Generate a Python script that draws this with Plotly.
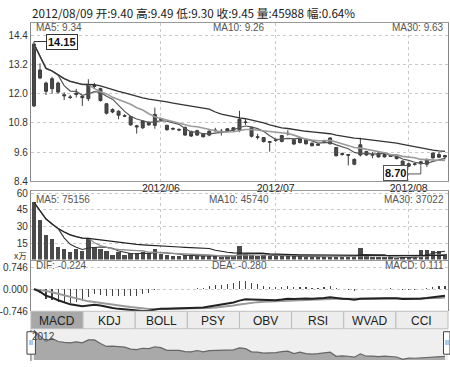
import plotly.graph_objects as go
import pandas as pd

# ---------------- data ----------------
may_days = [3, 4, 7, 8, 9, 10, 11, 14, 15, 16, 17, 18, 21, 22, 23, 24, 25, 28, 29, 30, 31]
jun_days = [1, 4, 5, 6, 7, 8, 11, 12, 13, 14, 15, 18, 19, 20, 21, 25, 26, 27, 28]
jul_days = [2, 3, 4, 5, 6, 9, 10, 11, 12, 13, 16, 17, 18, 19, 20, 23, 24, 25, 26, 27, 30, 31]
aug_days = [1, 2, 3, 6, 7, 8, 9]
dates = ([f"2012/05/{d:02d}" for d in may_days] + [f"2012/06/{d:02d}" for d in jun_days]
         + [f"2012/07/{d:02d}" for d in jul_days] + [f"2012/08/{d:02d}" for d in aug_days])

opens = [11.50, 12.65, 12.44, 12.21, 12.44, 11.96, 11.87, 11.97, 11.90, 11.80,
         12.30, 12.21, 11.59, 11.35, 11.28, 11.10, 11.06, 10.68, 10.60, 10.72,
         10.70, 10.94, 10.70, 10.57, 10.53, 10.62, 10.45, 10.30, 10.35, 10.30,
         10.48, 10.46, 10.46, 10.50, 10.50, 10.84, 10.60, 10.23, 10.20, 10.00,
         10.08, 10.04, 10.35, 10.11, 9.99, 10.11, 9.96, 9.88, 10.04, 9.94,
         9.79, 9.50, 9.50, 9.10, 9.48, 9.62, 9.47, 9.56, 9.40, 9.48,
         9.41, 9.23, 9.02, 9.10, 9.12, 9.10, 9.56, 9.50, 9.40]
highs = [14.15, 13.25, 12.50, 12.70, 12.50, 12.06, 11.95, 12.20, 11.92, 12.60,
         12.45, 12.25, 11.60, 11.40, 11.32, 11.16, 11.08, 10.72, 10.92, 10.86,
         11.43, 11.02, 10.72, 10.62, 10.58, 10.64, 10.48, 10.52, 10.38, 10.50,
         10.60, 10.55, 10.58, 10.62, 11.30, 10.95, 10.62, 10.35, 10.22, 10.05,
         10.15, 10.30, 10.50, 10.14, 10.20, 10.13, 10.00, 9.96, 10.11, 10.21,
         9.80, 9.58, 9.52, 9.34, 10.19, 9.65, 9.60, 9.58, 9.53, 9.50,
         9.43, 9.25, 9.16, 9.16, 9.24, 9.33, 9.58, 9.60, 9.49]
lows = [11.45, 12.60, 11.95, 12.00, 12.00, 11.74, 11.78, 11.85, 11.50, 11.70,
        12.20, 11.68, 11.15, 11.20, 10.95, 11.04, 10.68, 10.36, 10.55, 10.68,
        10.56, 10.90, 10.48, 10.50, 10.46, 10.27, 10.22, 10.27, 10.20, 10.25,
        10.42, 10.28, 10.44, 10.45, 10.42, 10.72, 10.20, 10.12, 10.00, 9.62,
        10.02, 10.00, 10.28, 9.90, 9.96, 9.91, 9.84, 9.86, 9.96, 9.92,
        9.42, 9.45, 9.05, 9.06, 9.42, 9.44, 9.35, 9.38, 9.38, 9.40,
        9.30, 8.70, 8.98, 9.04, 9.05, 8.99, 9.33, 9.35, 9.30]
closes = [14.05, 12.98, 12.10, 12.62, 12.07, 11.92, 11.85, 12.02, 11.84, 12.37,
          12.35, 11.72, 11.20, 11.25, 11.12, 11.08, 10.72, 10.64, 10.88, 10.82,
          11.15, 10.98, 10.52, 10.55, 10.51, 10.30, 10.26, 10.48, 10.23, 10.46,
          10.50, 10.44, 10.56, 10.60, 10.95, 10.82, 10.25, 10.21, 10.03, 10.03,
          10.10, 10.28, 10.37, 9.93, 10.18, 9.94, 9.86, 9.92, 10.06, 10.18,
          9.45, 9.53, 9.47, 9.30, 9.90, 9.48, 9.50, 9.40, 9.50, 9.42,
          9.33, 8.92, 9.12, 9.11, 9.20, 9.30, 9.36, 9.39, 9.45]
volumes = [52.0, 36.0, 22.5, 18.5, 11.5, 10.0, 6.5, 9.5, 8.0, 18.5,
           11.5, 9.7, 7.5, 3.8, 6.5, 4.5, 5.5, 5.8, 6.5, 4.8,
           9.8, 5.0, 4.0, 3.5, 3.2, 4.0, 3.3, 3.0, 3.2, 3.6,
           2.8, 2.6, 3.0, 3.4, 12.0, 5.0, 4.2, 3.6, 3.8, 3.5,
           3.2, 3.0, 3.0, 2.8, 2.9, 2.6, 2.5, 2.5, 2.6, 3.0,
           3.4, 2.8, 3.1, 2.9, 10.8, 3.2, 2.6, 2.4, 2.5, 2.0,
           1.8, 1.9, 1.2, 1.3, 8.6, 8.5, 8.0, 7.9, 4.6]  # 万

header_text = "2012/08/09 开:9.40 高:9.49 低:9.30 收:9.45 量:45988 幅:0.64%"
price_labels = ["MA5: 9.34", "MA10: 9.26", "MA30: 9.63"]
vol_labels = ["MA5: 75156", "MA10: 45740", "MA30: 37022"]
macd_labels = ["DIF: -0.224", "DEA: -0.280", "MACD: 0.111"]
tab_names = ["MACD", "KDJ", "BOLL", "PSY", "OBV", "RSI", "WVAD", "CCI"]
price_ticks = [8.4, 9.6, 10.8, 12.0, 13.2, 14.4]
vol_ticks = [15, 30, 45, 60]
vol_unit = "x万"
macd_ticks = [-0.746, 0.0, 0.746]
macd_ticktext = ["-0.746", "0.000", "0.746"]
month_ticks = ["2012/06/01", "2012/07/02", "2012/08/01"]
month_labels = ["2012/06", "2012/07", "2012/08"]
high_label, low_label = "14.15", "8.70"

# ---------------- derived ----------------
c = pd.Series(closes)
v = pd.Series(volumes)
ma = {n: c.rolling(n, min_periods=1).mean() for n in (5, 10, 30)}
vma = {n: v.rolling(n, min_periods=1).mean() for n in (5, 10, 30)}
ema12 = c.ewm(span=12, adjust=False).mean()
ema26 = c.ewm(span=26, adjust=False).mean()
dif = ema12 - ema26
dea = dif.ewm(span=9, adjust=False).mean()
hist = 2 * (dif - dea)

W, H = 450, 367
def py(p):
    return 1 - p / H
def px(p):
    return p / W

X0, X1 = 30, 448
FONT = "Liberation Sans, Arial, sans-serif"
CJK = "Noto Sans CJK SC, sans-serif"
DARK = "#4a4a4a"
GRID = "#c9c9c9"

fig = go.Figure()

# price panel
fig.add_trace(go.Candlestick(
    x=dates, open=opens, high=highs, low=lows, close=closes,
    increasing=dict(line=dict(color="#3c3c3c", width=1), fillcolor=DARK),
    decreasing=dict(line=dict(color="#3c3c3c", width=1), fillcolor=DARK),
    whiskerwidth=0, xaxis="x", yaxis="y", hoverinfo="skip"))
ma_styles = {5: ("#555555", 1.2), 10: ("#9a9a9a", 1.6), 30: ("#333333", 1.3)}
for n, (col, w) in ma_styles.items():
    fig.add_trace(go.Scatter(x=dates, y=ma[n], mode="lines", line=dict(color=col, width=w),
                             xaxis="x", yaxis="y", hoverinfo="skip"))

# volume panel
fig.add_trace(go.Bar(x=dates, y=volumes, marker=dict(color=DARK, line=dict(width=0)),
                     width=0.72, xaxis="x2", yaxis="y2", hoverinfo="skip"))
vma_styles = {5: ("#333333", 1.1), 10: ("#8f8f8f", 1.3), 30: ("#222222", 1.2)}
for n, (col, w) in vma_styles.items():
    fig.add_trace(go.Scatter(x=dates, y=vma[n], mode="lines", line=dict(color=col, width=w),
                             xaxis="x2", yaxis="y2", hoverinfo="skip"))

# MACD panel
fig.add_trace(go.Bar(x=dates, y=hist, marker=dict(color="#444444", line=dict(width=0)),
                     width=0.2, xaxis="x3", yaxis="y3", hoverinfo="skip"))
fig.add_trace(go.Scatter(x=dates, y=dea, mode="lines", line=dict(color="#9a9a9a", width=2),
                         xaxis="x3", yaxis="y3", hoverinfo="skip"))
fig.add_trace(go.Scatter(x=dates, y=dif, mode="lines", line=dict(color="#222222", width=2),
                         xaxis="x3", yaxis="y3", hoverinfo="skip"))

# navigator
fig.add_trace(go.Scatter(x=dates, y=closes, mode="lines", line=dict(color="#666666", width=1.2),
                         fill="tozeroy", fillcolor="#a9a9a9", xaxis="x4", yaxis="y4",
                         hoverinfo="skip"))

xdom = [px(X0), px(X1)]
common_x = dict(domain=xdom, type="category", range=[-0.5, len(dates) - 0.5],
                tickvals=month_ticks, ticktext=month_labels, ticks="",
                showgrid=True, gridcolor=GRID, griddash="dot", gridwidth=1,
                zeroline=False, fixedrange=True)
tickfont = dict(family=FONT, size=10, color="#333")
price_top = 14.4 + (33.3 - 20) / ((182.7 - 33.3) / 6.0)

fig.update_layout(
    width=W, height=H, autosize=False, margin=dict(l=0, r=0, t=0, b=0),
    paper_bgcolor="white", plot_bgcolor="white", showlegend=False,
    bargap=0,
    xaxis=dict(**common_x, anchor="y", showticklabels=True,
               tickfont=dict(family=FONT, size=10.5, color="#222"), ticklabelstandoff=-3,
               showline=True, linecolor="#999", mirror=True,
               rangeslider=dict(visible=False)),
    yaxis=dict(domain=[py(182.7), py(20)], range=[8.4, price_top], anchor="x",
               tickvals=price_ticks, ticktext=[f"{t:.1f}" for t in price_ticks],
               tickfont=tickfont, ticks="", showgrid=True, gridcolor=GRID, griddash="dot",
               showline=True, linecolor="#888", mirror=True, zeroline=False, fixedrange=True),
    xaxis2=dict(**common_x, anchor="y2", matches="x", showticklabels=False,
                showline=True, linecolor="#999", mirror=True),
    yaxis2=dict(domain=[py(263), py(193)], range=[0, 62], anchor="x2",
                tickvals=vol_ticks, ticktext=[str(t) for t in vol_ticks], tickfont=tickfont,
                ticks="", showgrid=True, gridcolor=GRID, griddash="dot",
                showline=True, linecolor="#888", mirror=True, zeroline=False, fixedrange=True),
    xaxis3=dict(domain=xdom, type="category", range=[-0.5, len(dates) - 0.5], anchor="y3",
                matches="x", showticklabels=False, showgrid=False, ticks="",
                showline=False, zeroline=False),
    yaxis3=dict(domain=[py(316), py(263)], range=[-0.746, 1.0], anchor="x3",
                tickvals=macd_ticks, ticktext=macd_ticktext, tickfont=tickfont, ticks="",
                showgrid=True, gridcolor=GRID, griddash="dot",
                showline=True, linecolor="#888", mirror=True, zeroline=False, fixedrange=True),
    xaxis4=dict(domain=xdom, type="category", range=[-0.5, len(dates) - 0.5], anchor="y4",
                matches="x", showticklabels=False, showgrid=False, ticks="",
                showline=False, zeroline=False),
    yaxis4=dict(domain=[py(366), py(335)], range=[8.8, 14.15], anchor="x4",
                showticklabels=False, showgrid=False, ticks="", zeroline=False,
                showline=False),
)

shapes = []
annotations = []

# header
annotations.append(dict(text=header_text, x=px(29), y=py(10), xref="paper", yref="paper",
                        xanchor="left", yanchor="middle", showarrow=False,
                        font=dict(family=CJK, size=11.7, color="#222")))

# volume unit label (in place of the zero tick)
annotations.append(dict(text=vol_unit, x=px(28), y=py(258.5), xref="paper", yref="paper",
                        xanchor="right", yanchor="middle", showarrow=False,
                        font=dict(family=CJK, size=8.5, color="#333")))

# panel labels
def panel_labels(labels, ypx):
    fnt = dict(family=FONT, size=10, color="#555")
    annotations.append(dict(text=labels[0], x=px(33), y=py(ypx), xref="paper", yref="paper",
                            xanchor="left", yanchor="middle", showarrow=False, font=fnt))
    annotations.append(dict(text=labels[1], x=px(239), y=py(ypx), xref="paper", yref="paper",
                            xanchor="center", yanchor="middle", showarrow=False, font=fnt))
    annotations.append(dict(text=labels[2], x=px(446), y=py(ypx), xref="paper", yref="paper",
                            xanchor="right", yanchor="middle", showarrow=False, font=fnt))

panel_labels(price_labels, 25.5)
panel_labels(vol_labels, 201)
panel_labels(macd_labels, 269.5)

# high / low markers
annotations.append(dict(text=f"<b>{high_label}</b>", x=dates[0], y=float(high_label),
                        xref="x", yref="y", showarrow=True, arrowhead=0, arrowwidth=1,
                        arrowcolor="#333", ax=28, ay=0, bordercolor="#333", borderwidth=1,
                        borderpad=1, bgcolor="white",
                        font=dict(family=FONT, size=11, color="#111")))
low_idx = lows.index(min(lows))
annotations.append(dict(text=f"<b>{low_label}</b>", x=dates[low_idx], y=float(low_label),
                        xref="x", yref="y", showarrow=False, xshift=-7, yshift=1,
                        bordercolor="#555", borderwidth=1, borderpad=1, bgcolor="white",
                        font=dict(family=FONT, size=11, color="#111")))
shapes.append(dict(type="line", xref="x", yref="y", x0=low_idx + 0.75, x1=low_idx + 3,
                   y0=float(low_label), y1=float(low_label), line=dict(color="#555", width=1)))
shapes.append(dict(type="line", xref="x", yref="y", x0=low_idx + 3, x1=low_idx + 3,
                   y0=float(low_label), y1=lows[low_idx + 3], line=dict(color="#555", width=1)))

# tabs
tab_w = (X1 - X0) / len(tab_names)
for i, name in enumerate(tab_names):
    x0 = X0 + i * tab_w
    shapes.append(dict(type="rect", xref="paper", yref="paper",
                       x0=px(x0), x1=px(x0 + tab_w), y0=py(334), y1=py(316),
                       fillcolor="#a8a8a8" if i == 0 else "#ededed",
                       line=dict(color="#bdbdbd", width=1), layer="above"))
    annotations.append(dict(text=name, x=px(x0 + tab_w / 2), y=py(325.5), xref="paper",
                            yref="paper", showarrow=False, xanchor="center", yanchor="middle",
                            font=dict(family=FONT, size=12, color="#222")))

# navigator background and frame
shapes.append(dict(type="rect", xref="paper", yref="paper", x0=px(X0), x1=px(X1),
                   y0=py(366), y1=py(335), fillcolor="#efefef", line=dict(width=0),
                   layer="below"))
shapes.append(dict(type="line", xref="paper", yref="paper", x0=px(X0), x1=px(X0),
                   y0=py(367), y1=py(335), line=dict(color="#666", width=1)))
annotations.append(dict(text="2012", x=px(29), y=py(342), xref="paper", yref="paper",
                        xanchor="left", yanchor="middle", showarrow=False,
                        font=dict(family=FONT, size=10, color="#444")))
for hx0, hx1 in ((26, 34.5), (443.5, 450)):
    shapes.append(dict(type="rect", xref="paper", yref="paper", x0=px(hx0), x1=px(hx1),
                       y0=py(360), y1=py(337), fillcolor="white",
                       line=dict(color="#444", width=1), layer="above"))
    annotations.append(dict(text="II", x=px((hx0 + hx1) / 2), y=py(348.5), xref="paper",
                            yref="paper", showarrow=False, xanchor="center", yanchor="middle",
                            font=dict(family=FONT, size=7, color="#555")))

fig.update_layout(shapes=shapes, annotations=annotations)
fig.write_html("out.html",
               config={"displayModeBar": False, "responsive": False, "staticPlot": True},
               post_script="document.body.style.margin='0';")
